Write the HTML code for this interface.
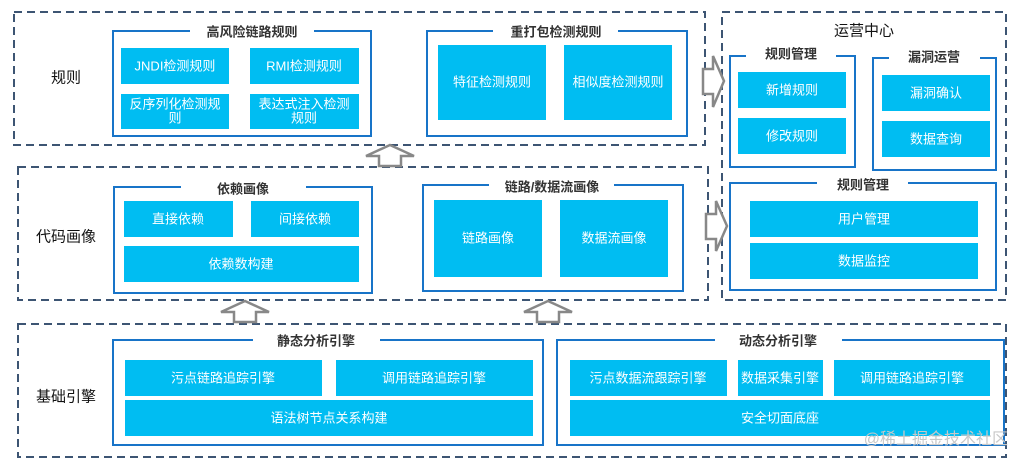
<!DOCTYPE html>
<html><head><meta charset="utf-8"><style>
html,body{margin:0;padding:0;background:#fff;}
svg{display:block;}
text{font-family:"Liberation Sans","Noto Sans CJK SC",sans-serif;}
.c{fill:#00bdf2;}
.w{fill:#fff;font-size:13px;text-anchor:middle;dominant-baseline:central;}
.t{fill:#333;font-size:13px;font-weight:bold;text-anchor:middle;dominant-baseline:central;}
.l{fill:#111;font-size:15px;text-anchor:middle;dominant-baseline:central;}
.d{fill:none;stroke:#3d5573;stroke-width:2;stroke-dasharray:8,5;}
.g{fill:none;stroke:#1874c8;stroke-width:2;}
.a{fill:#fff;stroke:#888;stroke-width:2.5;}
</style></head><body>
<svg width="1020" height="470" viewBox="0 0 1020 470">
<!-- dashed containers -->
<rect class="d" x="14" y="12" width="691" height="133"/>
<rect class="d" x="18" y="167" width="690" height="133"/>
<rect class="d" x="722" y="12" width="284" height="288"/>
<rect class="d" x="18" y="324" width="988" height="133"/>

<text class="l" x="66" y="78">规则</text>
<text class="l" x="66" y="237">代码画像</text>
<text class="l" x="66" y="397">基础引擎</text>
<text class="l" x="864" y="31">运营中心</text>

<!-- 高风险链路规则 -->
<path class="g" d="M190,31 H113 V136 H371 V31 H314"/>
<text class="t" x="252" y="32">高风险链路规则</text>
<rect class="c" x="121" y="48" width="108" height="36"/><text class="w" x="175" y="66">JNDI检测规则</text>
<rect class="c" x="250" y="48" width="109" height="36"/><text class="w" x="304" y="66">RMI检测规则</text>
<rect class="c" x="121" y="94" width="108" height="35"/><text class="w" x="175" y="104">反序列化检测规</text><text class="w" x="175" y="118">则</text>
<rect class="c" x="250" y="94" width="109" height="35"/><text class="w" x="304" y="104">表达式注入检测</text><text class="w" x="304" y="118">规则</text>

<!-- 重打包检测规则 -->
<path class="g" d="M493,31 H427 V136 H687 V31 H618"/>
<text class="t" x="556" y="32">重打包检测规则</text>
<rect class="c" x="438" y="45" width="108" height="75"/><text class="w" x="492" y="82">特征检测规则</text>
<rect class="c" x="564" y="45" width="108" height="75"/><text class="w" x="618" y="82">相似度检测规则</text>

<!-- 依赖画像 -->
<path class="g" d="M181,187 H114 V293 H372 V187 H306"/>
<text class="t" x="243" y="189">依赖画像</text>
<rect class="c" x="124" y="201" width="109" height="36"/><text class="w" x="178" y="219">直接依赖</text>
<rect class="c" x="251" y="201" width="108" height="36"/><text class="w" x="305" y="219">间接依赖</text>
<rect class="c" x="124" y="246" width="235" height="36"/><text class="w" x="241" y="264">依赖数构建</text>

<!-- 链路/数据流画像 -->
<path class="g" d="M489,185 H423 V291 H683 V185 H614"/>
<text class="t" x="552" y="187">链路/数据流画像</text>
<rect class="c" x="434" y="200" width="108" height="77"/><text class="w" x="488" y="238">链路画像</text>
<rect class="c" x="560" y="200" width="108" height="77"/><text class="w" x="614" y="238">数据流画像</text>

<!-- 运营中心 -->
<path class="g" d="M746,56 H730 V167 H855 V56 H836"/>
<text class="t" x="791" y="54">规则管理</text>
<rect class="c" x="738" y="72" width="108" height="36"/><text class="w" x="792" y="90">新增规则</text>
<rect class="c" x="738" y="118" width="108" height="36"/><text class="w" x="792" y="136">修改规则</text>

<path class="g" d="M889,58 H873 V170 H996 V58 H980"/>
<text class="t" x="934" y="57">漏洞运营</text>
<rect class="c" x="882" y="75" width="108" height="36"/><text class="w" x="936" y="93">漏洞确认</text>
<rect class="c" x="882" y="121" width="108" height="36"/><text class="w" x="936" y="139">数据查询</text>

<path class="g" d="M817,183 H730 V290 H996 V183 H908"/>
<text class="t" x="863" y="185">规则管理</text>
<rect class="c" x="750" y="201" width="228" height="36"/><text class="w" x="864" y="219">用户管理</text>
<rect class="c" x="750" y="243" width="228" height="36"/><text class="w" x="864" y="261">数据监控</text>

<!-- 静态分析引擎 -->
<path class="g" d="M253,340 H113 V445 H543 V340 H380"/>
<text class="t" x="316" y="341">静态分析引擎</text>
<rect class="c" x="125" y="360" width="197" height="36"/><text class="w" x="223" y="378">污点链路追踪引擎</text>
<rect class="c" x="336" y="360" width="197" height="36"/><text class="w" x="434" y="378">调用链路追踪引擎</text>
<rect class="c" x="125" y="400" width="408" height="36"/><text class="w" x="329" y="418">语法树节点关系构建</text>

<!-- 动态分析引擎 -->
<path class="g" d="M715,340 H557 V445 H1004 V340 H842"/>
<text class="t" x="778" y="341">动态分析引擎</text>
<rect class="c" x="570" y="360" width="157" height="36"/><text class="w" x="648" y="378">污点数据流跟踪引擎</text>
<rect class="c" x="738" y="360" width="85" height="36"/><text class="w" x="780" y="378">数据采集引擎</text>
<rect class="c" x="834" y="360" width="156" height="36"/><text class="w" x="912" y="378">调用链路追踪引擎</text>
<rect class="c" x="570" y="400" width="420" height="36"/><text class="w" x="780" y="418">安全切面底座</text>

<!-- up arrows -->
<path class="a" d="M390,145 L414,156 H401 V166 H379 V156 H366 Z"/>
<path class="a" d="M245,301 L269,312 H256 V322 H234 V312 H221 Z"/>
<path class="a" d="M548,301 L572,312 H559 V322 H537 V312 H524 Z"/>
<!-- right arrows -->
<path class="a" d="M724,81 L713,56 V69 H703 V94 H713 V107 Z"/>
<path class="a" d="M727,226 L716,201 V214 H706 V239 H716 V251 Z"/>

<text x="1008" y="444" style="fill:#c8c8c8;font-size:16px;text-anchor:end;">@稀土掘金技术社区</text>
</svg>
</body></html>
